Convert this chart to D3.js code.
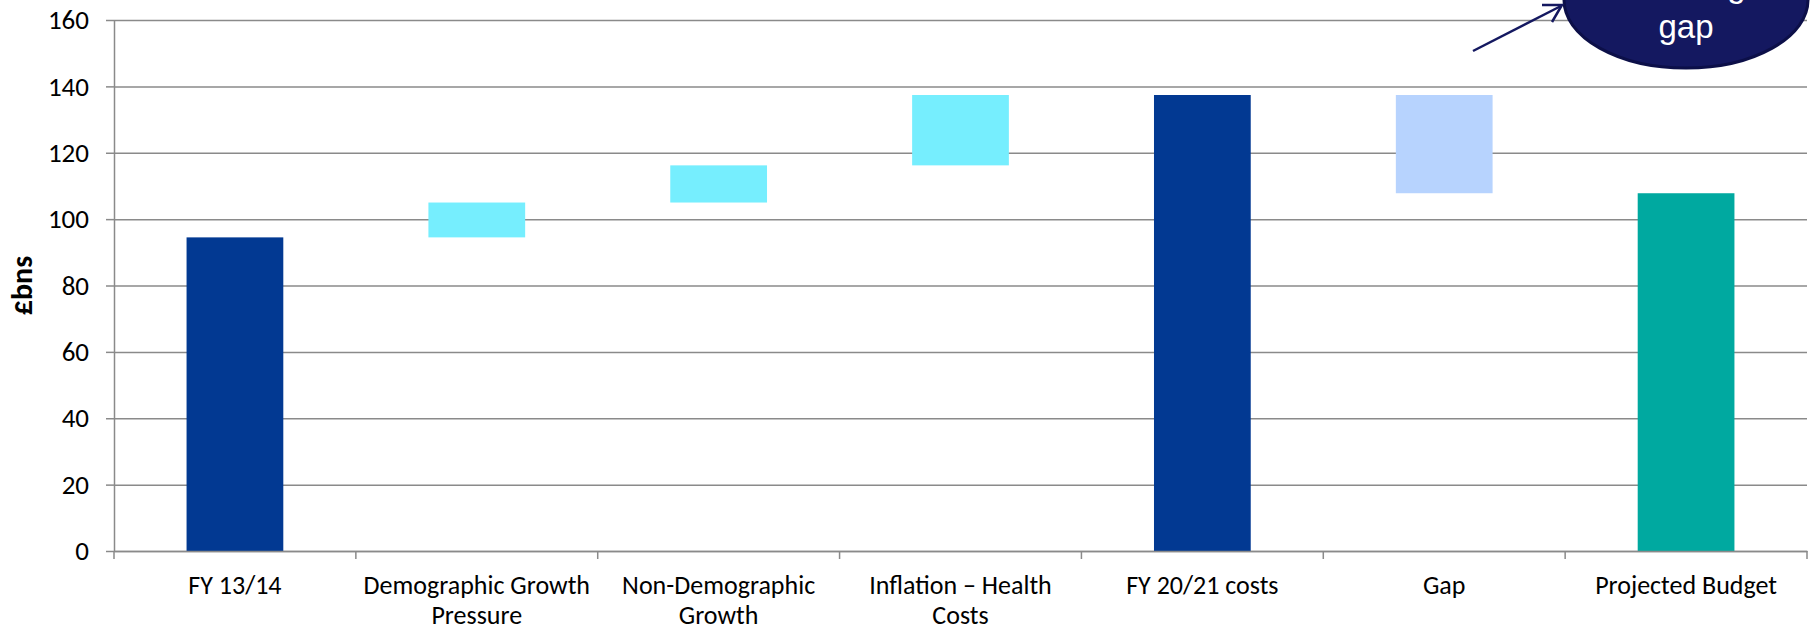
<!DOCTYPE html>
<html>
<head>
<meta charset="utf-8">
<script src="https://cdn.jsdelivr.net/npm/d3@7"></script>
<style>
  html, body { margin: 0; padding: 0; background: #ffffff; }
  svg { display: block; }
</style>
</head>
<body>
<svg id="chart" width="1814" height="630"></svg>
<script>
// ---- data ----
const categories = [
  "FY 13/14",
  "Demographic Growth\nPressure",
  "Non-Demographic\nGrowth",
  "Inflation \u2013 Health\nCosts",
  "FY 20/21 costs",
  "Gap",
  "Projected Budget"
];
const barLow  = [0,    94.5, 105.0, 116.2, 0,     107.8, 0];
const barHigh = [94.5, 105.0, 116.2, 137.4, 137.4, 137.4, 107.8];
const barKind = ["total", "increase", "increase", "increase", "total", "gap", "budget"];
const yTicks = [0, 20, 40, 60, 80, 100, 120, 140, 160];
const yTitle = "\u00a3bns";
const calloutLines = ["Funding", "gap"];

// ---- styles ----
const kindColor = { total: "#023992", increase: "#76EEFE", gap: "#B7D3FE", budget: "#00A9A0" };
const gridColor = "#8a8a8a";
const labelFont = "Carlito, Calibri, Lato, 'Open Sans', sans-serif";
const fontSize = 26;

const svg = d3.select("#chart");
const margin = { left: 114, right: 7, top: 20, bottom: 79 };
const W = 1814, H = 630;

const x = d3.scaleBand()
  .domain(categories)
  .range([margin.left, W - margin.right])
  .paddingInner(0.6)
  .paddingOuter(0.3);

const y = d3.scaleLinear()
  .domain([0, 160])
  .range([H - margin.bottom, margin.top]);

// gridlines
const grid = svg.append("g")
  .attr("transform", `translate(${margin.left},0)`)
  .call(d3.axisLeft(y).tickValues(yTicks).tickSize(-(W - margin.right - margin.left)).tickFormat(""));
grid.select(".domain").remove();
grid.selectAll("line").attr("stroke", gridColor).attr("stroke-width", 1.5);

// y axis
const yAxis = svg.append("g")
  .attr("transform", `translate(${margin.left},0)`)
  .call(d3.axisLeft(y).tickValues(yTicks).tickSize(8).tickPadding(17).tickSizeOuter(0));
yAxis.select(".domain").attr("stroke", gridColor).attr("stroke-width", 1.5);
yAxis.selectAll(".tick line").attr("stroke", gridColor).attr("stroke-width", 1.5);
yAxis.selectAll(".tick text")
  .attr("font-family", labelFont)
  .attr("font-size", 27)
  .attr("fill", "#000");

// y title
svg.append("text")
  .attr("transform", `translate(32, ${(y(0) + y(160)) / 2}) rotate(-90)`)
  .attr("text-anchor", "middle")
  .attr("font-family", labelFont)
  .attr("font-weight", "bold")
  .attr("font-size", 30)
  .attr("fill", "#000")
  .text(yTitle);

// bars
svg.append("g").selectAll("rect")
  .data(categories)
  .join("rect")
  .attr("x", d => x(d))
  .attr("width", x.bandwidth())
  .attr("y", (d, i) => y(barHigh[i]))
  .attr("height", (d, i) => y(barLow[i]) - y(barHigh[i]))
  .attr("fill", (d, i) => kindColor[barKind[i]]);

// x axis
const x0 = y(0);
const xAxis = svg.append("g")
  .attr("transform", `translate(0,${x0})`)
  .call(d3.axisBottom(x).tickSize(0).tickSizeOuter(0).tickFormat(""));
xAxis.select(".domain").attr("stroke", gridColor).attr("stroke-width", 1.5);

// boundary tick marks
const boundaries = d3.range(categories.length + 1).map(i => margin.left + i * x.step());
svg.append("g").selectAll("line")
  .data(boundaries)
  .join("line")
  .attr("x1", d => d).attr("x2", d => d)
  .attr("y1", x0).attr("y2", x0 + 8)
  .attr("stroke", gridColor).attr("stroke-width", 1.5);

// category labels
const lab = svg.append("g").selectAll("text")
  .data(categories)
  .join("text")
  .attr("x", d => x(d) + x.bandwidth() / 2)
  .attr("y", x0 + 43)
  .attr("text-anchor", "middle")
  .attr("font-family", labelFont)
  .attr("font-size", fontSize)
  .attr("fill", "#000");
lab.each(function(d) {
  const lines = d.split("\n");
  const t = d3.select(this);
  lines.forEach((ln, k) => {
    t.append("tspan")
      .attr("x", x(d) + x.bandwidth() / 2)
      .attr("dy", k === 0 ? 0 : 30)
      .text(ln);
  });
});

// callout ellipse
const cx = 1686, cy = 0;
svg.append("ellipse")
  .attr("cx", cx).attr("cy", cy)
  .attr("rx", 122).attr("ry", 68)
  .attr("fill", "#141860")
  .attr("stroke", "#0c0f48")
  .attr("stroke-width", 3);
svg.append("text")
  .attr("x", cx).attr("y", -3)
  .attr("text-anchor", "middle")
  .attr("font-family", "'Liberation Sans', Arial, sans-serif")
  .attr("font-size", 33)
  .attr("fill", "#ffffff")
  .selectAll("tspan")
  .data(calloutLines)
  .join("tspan")
  .attr("x", cx)
  .attr("dy", (d, i) => i === 0 ? 0 : 41)
  .text(d => d);

// arrow
const arrowColor = "#141860";
svg.append("line")
  .attr("x1", 1473).attr("y1", 51)
  .attr("x2", 1561).attr("y2", 6)
  .attr("stroke", arrowColor).attr("stroke-width", 2.5);
svg.append("path")
  .attr("d", "M1542,5 L1562,5 L1552,22")
  .attr("fill", "none")
  .attr("stroke", arrowColor)
  .attr("stroke-width", 2.5)
  .attr("stroke-linejoin", "miter");
</script>
</body>
</html>
